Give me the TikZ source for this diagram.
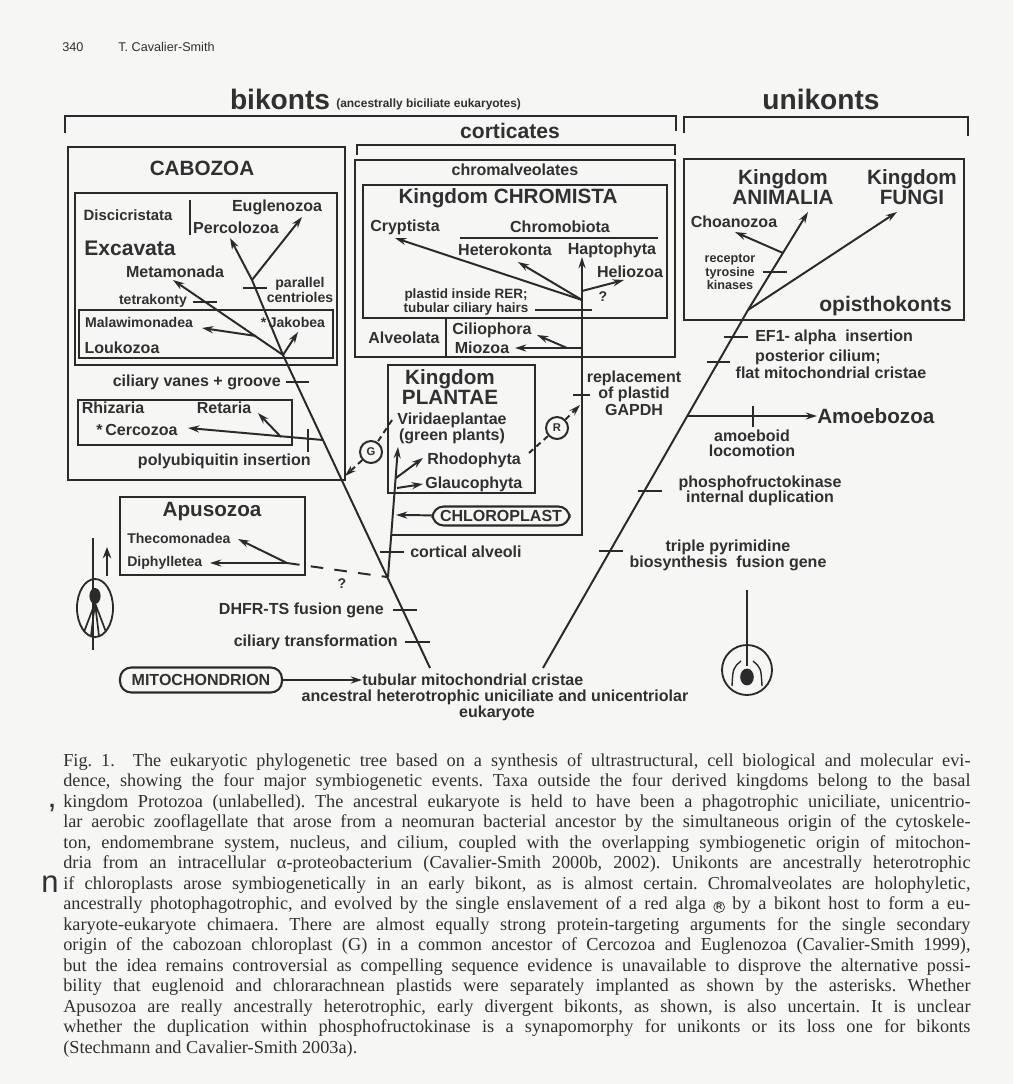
\documentclass[tikz,border=0pt]{standalone}
\usepackage{fontspec}
\setmainfont{Liberation Serif}
\setsansfont{Liberation Sans}
\usetikzlibrary{arrows.meta}
\definecolor{ink}{HTML}{2A2A2A}
\definecolor{paper}{HTML}{F6F6F5}
\definecolor{txt}{HTML}{303030}
\newlength\capwidth
\setlength\capwidth{22.675cm}
% small circled letter used in the caption
\newcommand{\circR}{\tikz[baseline=(cr.base)]\node[circle, draw=txt, line width=0.5pt, inner sep=0.6pt,
  font=\sffamily\bfseries\fontsize{6}{6}\selectfont, text=txt] (cr) {R};}
\begin{document}
\frenchspacing
\begin{tikzpicture}[x=0.025cm,y=-0.025cm,
  lab/.style={inner sep=0pt, text=txt, font=\sffamily\bfseries\fontsize{11.4}{11.4}\selectfont},
  labs/.style={lab, font=\sffamily\bfseries\fontsize{10}{10.6}\selectfont},
  labxs/.style={lab, font=\sffamily\bfseries\fontsize{9}{9.9}\selectfont},
  labm/.style={lab, font=\sffamily\bfseries\fontsize{14.7}{14.5}\selectfont},
  labl/.style={lab, font=\sffamily\bfseries\fontsize{20}{22}\selectfont},
  branch/.style={draw=ink, line width=1.4pt},
  ray/.style={branch, -{Stealth[length=8pt,width=5pt]}},
  marker/.style={draw=ink, line width=1.4pt},
  frame/.style={draw=ink, line width=1.1pt},
  heavyframe/.style={draw=ink, line width=1.8pt},
  bracket/.style={draw=ink, line width=1.6pt},
  pill/.style={lab, draw=ink, line width=1.5pt, rounded corners=8pt},
  sym/.style={circle, draw=ink, line width=1.4pt, minimum size=0.55cm, inner sep=0pt, text=txt,
    font=\sffamily\bfseries\fontsize{8}{8}\selectfont},
  dashedray/.style={ray, dash pattern=on 4pt off 3pt},
  captext/.style={anchor=west, inner sep=0pt, text=txt, font=\rmfamily\fontsize{13}{14}\selectfont},
]
\fill[paper] (0,0) rectangle (1013,1084);
\useasboundingbox (0,0) rectangle (1013,1084);

% running head
\node[lab, font=\sffamily\fontsize{9}{10}\selectfont, anchor=west] (pageno) at (62,47) {340};
\node[lab, font=\sffamily\fontsize{9}{10}\selectfont, anchor=west] (author) at (118,47) {T. Cavalier-Smith};

% group headings and brackets
\node[labl] (bikonts) at (280,99) {bikonts};
\node[lab, font=\sffamily\bfseries\fontsize{8.5}{9}\selectfont, anchor=west] (bikdef) at (336,104) {(ancestrally biciliate eukaryotes)};
\node[labl] (unikonts) at (821,99) {unikonts};
\draw[bracket] (65,133) -- (65,116) -- (676,116) -- (676,131);
\draw[bracket] (684,133) -- (684,117) -- (968,117) -- (968,136);
\node[labm, font=\sffamily\bfseries\fontsize{15}{15}\selectfont] (corticates) at (510,131) {corticates};
\draw[bracket] (357,155) -- (357,145) -- (675,145) -- (675,155);

% ---------- Cabozoa ----------
\draw[heavyframe] (68,147) rectangle (345,480);
\node[labm] (cabozoa) at (202,168) {CABOZOA};
\draw[frame] (75,193) rectangle (337,365);
\draw[frame] (79,310) rectangle (333,358);
\node[labs, font=\sffamily\bfseries\fontsize{10.6}{11}\selectfont] (discicristata) at (128,215) {Discicristata};
\draw[frame] (190,200) -- (190,235);
\node[lab] (euglenozoa) at (277,207) {Euglenozoa};
\node[lab] (percolozoa) at (236,228) {Percolozoa};
\node[labm, font=\sffamily\bfseries\fontsize{15}{15}\selectfont] (excavata) at (130,248) {Excavata};
\node[lab] (metamonada) at (175,272) {Metamonada};
\node[labs, align=center] (parcen) at (300,290) {parallel\\centrioles};
\node[labs] (tetrakonty) at (153,301) {tetrakonty};
\node[labs] (malawi) at (139,322) {Malawimonadea};
\node[labs] (jakobea) at (293,322) {*\,Jakobea};
\node[lab] (loukozoa) at (122,348) {Loukozoa};

\coordinate (bA) at (283,355);
\coordinate (bD) at (252,280);
\coordinate (bM) at (256,336);
\coordinate (tEug) at (302,217);
\coordinate (tPerc) at (230,238);
\coordinate (tMeta) at (173,280);
\coordinate (tMala) at (202,328);
\coordinate (tJak) at (298,332);
\draw[branch] (bA) -- (bD);
\draw[ray] (bD) -- (tEug);
\draw[ray] (bD) -- (tPerc);
\draw[ray] (bA) -- (tMeta);
\draw[ray] (bM) -- (tMala);
\draw[ray] (bA) -- (tJak);
\draw[marker] (243,288) -- (267,288);
\draw[marker] (193,302) -- (217,302);

\node[lab, anchor=east] (vanes) at (281,382) {ciliary vanes + groove};
\draw[marker] (286,382) -- (309,382);

\draw[frame] (78,400) rectangle (292,445);
\node[lab] (rhizaria) at (113,408) {Rhizaria};
\node[lab] (retaria) at (224,408) {Retaria};
\node[lab] (cercozoa) at (137,430) {*\,Cercozoa};
\coordinate (bC) at (323,440);
\coordinate (bR) at (281,437);
\coordinate (tCerc) at (188,428);
\coordinate (tRet) at (258,413);
\draw[ray] (bC) -- (tCerc);
\draw[ray] (bR) -- (tRet);
\draw[marker] (308,429) -- (308,452);
\node[lab, anchor=east] (polyub) at (311,461) {polyubiquitin insertion};

% ---------- Apusozoa ----------
\draw[frame] (120,497) rectangle (305,575);
\node[labm] (apusozoa) at (212,512) {Apusozoa};
\node[labs, anchor=west] (thecomonadea) at (127,538) {Thecomonadea};
\node[labs, anchor=west] (diphylletea) at (127,563) {Diphylletea};
\coordinate (bApu) at (287,563);
\coordinate (tDiph) at (210,563);
\coordinate (tThec) at (238,539);
\coordinate (bQ) at (387,577);
\draw[ray] (bApu) -- (tDiph);
\draw[ray] (bApu) -- (tThec);
\draw[branch, dash pattern=on 9pt off 8pt] (bApu) -- (bQ);
\node[labs] (query) at (342,584) {?};

% ---------- bikont trunk ----------
\coordinate (bRoot) at (430,668);
\draw[branch] (bRoot) -- (bA);
\draw[marker] (393,610) -- (417,610);
\node[lab, anchor=east] (dhfr) at (384,610) {DHFR-TS fusion gene};
\draw[marker] (405,642) -- (430,642);
\node[lab, anchor=east] (cilt) at (398,642) {ciliary transformation};

\node[pill, minimum width=4.05cm, minimum height=0.625cm] (mito) at (201,680) {MITOCHONDRION};
\node[lab, anchor=west] (tubular) at (362,680) {tubular mitochondrial cristae};
\draw[ray] (mito) -- (tubular);
\node[lab] (ancestor) at (495,697) {ancestral heterotrophic uniciliate and unicentriolar};
\node[lab] (eukaryote) at (497,713) {eukaryote};

% ---------- chromalveolates ----------
\draw[frame, line width=1.3pt] (355,160) rectangle (675,357);
\node[lab] (chromalv) at (515,170) {chromalveolates};
\draw[frame] (363,185) rectangle (667,318);
\node[labm] (chromista) at (508,198) {Kingdom CHROMISTA};
\node[lab] (cryptista) at (405,227) {Cryptista};
\node[lab] (chromobiota) at (560,227) {Chromobiota};
\draw[frame] (460,238) -- (658,238);
\node[lab] (heterokonta) at (505,250) {Heterokonta};
\node[lab] (haptophyta) at (612,250) {Haptophyta};
\node[lab] (heliozoa) at (630,272) {Heliozoa};
\node[labs] (query2) at (603,297) {?};
\node[labs, font=\sffamily\bfseries\fontsize{9.6}{10.6}\selectfont, align=center] (rer) at (466,302) {plastid inside RER;\\tubular ciliary hairs};
\draw[frame] (446,318) -- (446,357);
\node[lab] (alveolata) at (404,338) {Alveolata};
\node[lab] (ciliophora) at (492,330) {Ciliophora};
\node[lab] (miozoa) at (482,348) {Miozoa};

% ---------- corticate stem ----------
\coordinate (cT) at (388,577);
\coordinate (cB) at (391,535);
\coordinate (cR) at (582,535);
\coordinate (cC) at (582,300);
\coordinate (cHel) at (582,291);
\coordinate (cMio) at (582,348);
\coordinate (cCil) at (567,348);
\coordinate (tHap) at (582,257);
\coordinate (tCry) at (395,238);
\coordinate (tHet) at (518,262);
\coordinate (tHel) at (624,280);
\coordinate (tMio) at (515,348);
\coordinate (tCil) at (537,335);
\draw[branch] (cB) -- (cR) -- (cC);
\draw[ray] (cC) -- (tHap);
\draw[ray] (cC) -- (tCry);
\draw[ray] (cC) -- (tHet);
\draw[ray] (cHel) -- (tHel);
\draw[ray] (cMio) -- (tMio);
\draw[ray] (cCil) -- (tCil);
\draw[marker] (535,310) -- (592,310);

% ---------- Plantae ----------
\draw[frame] (388,365) rectangle (535,493);
\node[labm, align=center] (plantae) at (450,387) {Kingdom\\PLANTAE};
\node[lab, align=center] (viridae) at (452,428) {Viridaeplantae\\(green plants)};
\node[lab, anchor=west] (rhodophyta) at (427,460) {Rhodophyta};
\node[lab, anchor=west] (glaucophyta) at (425,484) {Glaucophyta};
\coordinate (tVir) at (398,447);
\coordinate (pRho) at (396,478);
\coordinate (pGla) at (397,488);
\coordinate (tRho) at (423,458);
\coordinate (tGla) at (423,484);
\draw[ray] (cT) -- (tVir);
\draw[ray] (pRho) -- (tRho);
\draw[ray] (pGla) -- (tGla);
\draw[marker] (380,552) -- (404,552);
\node[lab, anchor=west] (alveoli) at (410,552) {cortical alveoli};
\node[pill, minimum width=3.425cm, minimum height=0.475cm] (chloro) at (501,516) {CHLOROPLAST};
\coordinate (tChl) at (396,515);
\draw[ray] (chloro) -- (tChl);

% secondary symbioses
\node[sym] (green) at (371,452) {G};
\coordinate (gSrc) at (392,420);
\coordinate (gTip) at (345,476);
\draw[branch, dash pattern=on 4pt off 3pt] (gSrc) -- (green);
\draw[dashedray] (green) -- (gTip);
\node[sym] (red) at (557,428) {R};
\coordinate (rSrc) at (529,453);
\coordinate (rTip) at (580,405);
\draw[branch, dash pattern=on 4pt off 3pt] (rSrc) -- (red);
\draw[dashedray] (red) -- (rTip);
\draw[marker] (573,395) -- (590,395);
\node[lab, align=center, font=\sffamily\bfseries\fontsize{11.4}{11.8}\selectfont] (gapdh) at (634,393) {replacement\\of plastid\\GAPDH};

% ---------- unikonts ----------
\draw[frame, line width=1.3pt] (684,159) rectangle (964,320);
\node[labm, align=center] (animalia) at (783,187) {Kingdom\\ANIMALIA};
\node[labm, align=center] (fungi) at (912,187) {Kingdom\\FUNGI};
\node[lab] (choanozoa) at (734,222) {Choanozoa};
\node[labxs, align=center] (rtk) at (730,272) {receptor\\tyrosine\\kinases};
\node[labm, font=\sffamily\bfseries\fontsize{15}{15}\selectfont, anchor=east] (opistho) at (952,306) {opisthokonts};

\coordinate (uRoot) at (543,668);
\coordinate (uO) at (748,310);
\coordinate (uAm) at (687,416);
\coordinate (uCh) at (783,253);
\coordinate (tAni) at (808,212);
\coordinate (tFun) at (897,212);
\coordinate (tCho) at (735,232);
\draw[branch] (uRoot) -- (uO);
\draw[ray] (uO) -- (tAni);
\draw[ray] (uO) -- (tFun);
\draw[ray] (uCh) -- (tCho);
\draw[marker] (763,272) -- (787,272);
\draw[marker] (724,337) -- (748,337);
\draw[marker] (707,362) -- (730,362);
\draw[marker] (638,491) -- (662,491);
\draw[marker] (599,551) -- (623,551);

\node[lab, anchor=west] (ef1) at (755,337) {EF1- alpha\ \ insertion};
\node[lab] (posterior) at (818,357) {posterior cilium;};
\node[lab] (flatcristae) at (831,373) {flat mitochondrial cristae};
\node[labm, anchor=west] (amoebozoa) at (817,416) {Amoebozoa};
\draw[ray] (uAm) -- (amoebozoa);
\draw[marker] (753,406) -- (753,427);
\node[lab, align=center, font=\sffamily\bfseries\fontsize{11.4}{10.8}\selectfont] (amloc) at (752,443) {amoeboid\\locomotion};
\node[lab, align=center, font=\sffamily\bfseries\fontsize{11.4}{10.8}\selectfont] (pfk) at (760,491) {phosphofructokinase\\internal duplication};
\node[lab, align=center, font=\sffamily\bfseries\fontsize{11.4}{11.4}\selectfont] (tpyr) at (728,555) {triple pyrimidine\\biosynthesis\ \ fusion gene};

% cell sketches
\draw[branch] (93,538) -- (93,650);
\draw[frame, line width=1.3pt] (95,608) ellipse [x radius=0.45cm, y radius=0.725cm];
\fill[ink] (95,596) ellipse [x radius=0.14cm, y radius=0.2cm];
\draw[ink, line width=1.2pt] (95,603) -- (84,632) (95,603) -- (106,632) (95,603) -- (91,636) (95,603) -- (99,636);
\draw[ink, line width=2pt, -{Stealth[length=8pt,width=6pt]}] (107,576) -- (107,547);

\draw[branch] (747,590) -- (747,666);
\draw[frame, line width=1.3pt] (747,670) circle [radius=0.625cm];
\fill[ink] (747,677) ellipse [x radius=0.17cm, y radius=0.21cm];
\draw[ink, line width=1pt] (741,661) .. controls (733,668) .. (732,686);
\draw[ink, line width=1pt] (753,661) .. controls (761,668) .. (762,686);

% stray marks at the left edge
\node[lab, font=\sffamily\fontsize{24}{24}\selectfont] (mark1) at (52,816) {’};
\node[lab, font=\sffamily\fontsize{22}{22}\selectfont] (mark2) at (50,884) {n};

% caption
\node[captext] (c1) at (63,762) {\makebox[\capwidth][s]{Fig. 1.\ \ The eukaryotic phylogenetic tree based on a synthesis of ultrastructural, cell biological and molecular evi-}};
\node[captext] (c2) at (63,782.5) {\makebox[\capwidth][s]{dence, showing the four major symbiogenetic events. Taxa outside the four derived kingdoms belong to the basal}};
\node[captext] (c3) at (63,803) {\makebox[\capwidth][s]{kingdom Protozoa (unlabelled). The ancestral eukaryote is held to have been a phagotrophic uniciliate, unicentrio-}};
\node[captext] (c4) at (63,823.5) {\makebox[\capwidth][s]{lar aerobic zooflagellate that arose from a neomuran bacterial ancestor by the simultaneous origin of the cytoskele-}};
\node[captext] (c5) at (63,844) {\makebox[\capwidth][s]{ton, endomembrane system, nucleus, and cilium, coupled with the overlapping symbiogenetic origin of mitochon-}};
\node[captext] (c6) at (63,864.5) {\makebox[\capwidth][s]{dria from an intracellular α-proteobacterium (Cavalier-Smith 2000b, 2002). Unikonts are ancestrally heterotrophic}};
\node[captext] (c7) at (63,885) {\makebox[\capwidth][s]{if chloroplasts arose symbiogenetically in an early bikont, as is almost certain. Chromalveolates are holophyletic,}};
\node[captext] (c8) at (63,905.5) {\makebox[\capwidth][s]{ancestrally photophagotrophic, and evolved by the single enslavement of a red alga \circR{} by a bikont host to form a eu-}};
\node[captext] (c9) at (63,926) {\makebox[\capwidth][s]{karyote-eukaryote chimaera. There are almost equally strong protein-targeting arguments for the single secondary}};
\node[captext] (c10) at (63,946.5) {\makebox[\capwidth][s]{origin of the cabozoan chloroplast (G) in a common ancestor of Cercozoa and Euglenozoa (Cavalier-Smith 1999),}};
\node[captext] (c11) at (63,967) {\makebox[\capwidth][s]{but the idea remains controversial as compelling sequence evidence is unavailable to disprove the alternative possi-}};
\node[captext] (c12) at (63,987.5) {\makebox[\capwidth][s]{bility that euglenoid and chlorarachnean plastids were separately implanted as shown by the asterisks. Whether}};
\node[captext] (c13) at (63,1008) {\makebox[\capwidth][s]{Apusozoa are really ancestrally heterotrophic, early divergent bikonts, as shown, is also uncertain. It is unclear}};
\node[captext] (c14) at (63,1028.5) {\makebox[\capwidth][s]{whether the duplication within phosphofructokinase is a synapomorphy for unikonts or its loss one for bikonts}};
\node[captext] (c15) at (63,1049) {(Stechmann and Cavalier-Smith 2003a).};
\end{tikzpicture}
\end{document}
